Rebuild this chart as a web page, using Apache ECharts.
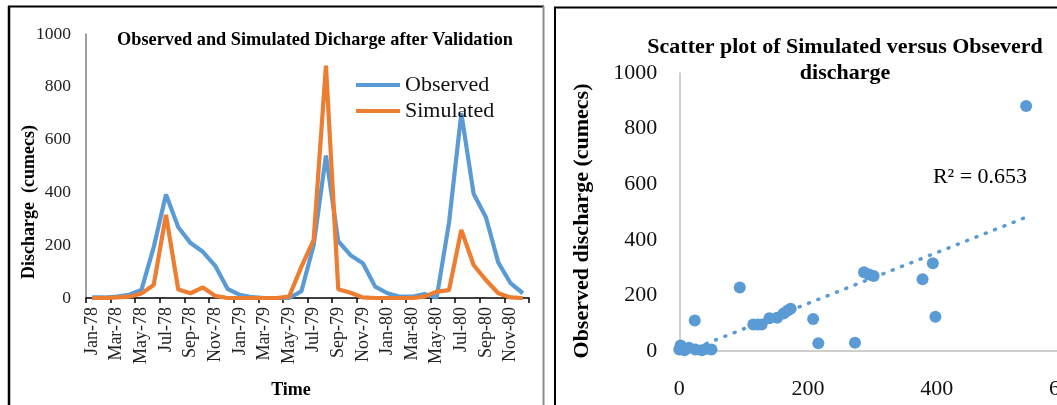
<!DOCTYPE html>
<html><head><meta charset="utf-8">
<script src="https://cdn.jsdelivr.net/npm/echarts@6/dist/echarts.min.js"></script>
<style>html,body{margin:0;padding:0;background:#fff;overflow:hidden}#c{width:1057px;height:405px}</style>
</head><body><div id="c"></div>
<script>
const months = ['Jan-78','Feb-78','Mar-78','Apr-78','May-78','Jun-78','Jul-78','Aug-78','Sep-78','Oct-78','Nov-78','Dec-78',
  'Jan-79','Feb-79','Mar-79','Apr-79','May-79','Jun-79','Jul-79','Aug-79','Sep-79','Oct-79','Nov-79','Dec-79',
  'Jan-80','Feb-80','Mar-80','Apr-80','May-80','Jun-80','Jul-80','Aug-80','Sep-80','Oct-80','Nov-80','Dec-80'];
const observed  = [2, 2, 5, 12, 30, 192, 392, 268, 208, 175, 122, 35,
                   12, 3, 0, 0, 0, 25, 200, 540, 215, 162, 132, 43,
                   18, 5, 5, 15, 2, 285, 700, 395, 306, 135, 56, 18];
const simulated = [0, 0, 2, 5, 17, 49, 315, 32, 18, 40, 8, 0,
                   0, 0, 0, 0, 5, 118, 220, 880, 33, 20, 2, 0,
                   0, 0, 0, 5, 24, 30, 258, 125, 68, 18, 2, 0];
const scatterPoints = [[0, 5], [2, 20], [5, 10], [8, 3], [15, 12], [25, 5], [35, 3], [42, 8], [50, 5],
  [24, 110], [94, 228], [115, 95], [122, 95], [128, 95], [140, 118], [152, 120], [162, 135], [168, 145], [173, 152],
  [208, 115], [216, 28], [273, 30], [287, 283], [295, 275], [302, 270], [378, 258], [394, 316], [398, 123], [539, 881]];
const trendline = [[13, 0], [539, 481]];
const r2Text = 'R² = 0.653';
const leftTitle = 'Observed and Simulated Dicharge after Validation';
const rightTitle = 'Scatter plot of Simulated versus Obseverd\ndischarge';

const FONT = '"Liberation Serif","Times New Roman",serif';
const LF = 'Liberation Serif';
const BLUE = '#5B9BD5', ORANGE = '#ED7D31';
const plain = v => String(v);
const chart = echarts.init(document.getElementById('c'));
chart.setOption({
  animation: false,
  backgroundColor: '#fff',
  textStyle: {fontFamily: LF},
  graphic: [
    {type:'line', shape:{x1:8, y1:6.5, x2:544, y2:6.5}, style:{stroke:'#000', lineWidth:2}},
    {type:'line', shape:{x1:9, y1:6, x2:9, y2:405}, style:{stroke:'#000', lineWidth:2.5}},
    {type:'line', shape:{x1:543.5, y1:6, x2:543.5, y2:405}, style:{stroke:'#8c8c8c', lineWidth:2}},
    {type:'line', shape:{x1:554, y1:7.5, x2:1057, y2:7.5}, style:{stroke:'#000', lineWidth:2}},
    {type:'line', shape:{x1:555, y1:7, x2:555, y2:405}, style:{stroke:'#000', lineWidth:2}},
    {type:'text', x:315, y:40, style:{text:leftTitle, font:'bold 18.3px '+FONT, fill:'#000', align:'center', verticalAlign:'middle'}},
    {type:'text', x:29, y:202, rotation:Math.PI/2, style:{text:'Discharge  (cumecs)', font:'bold 18px '+FONT, fill:'#000', align:'center', verticalAlign:'middle'}},
    {type:'text', x:291, y:390, style:{text:'Time', font:'bold 18px '+FONT, fill:'#000', align:'center', verticalAlign:'middle'}},
    {type:'text', x:845, y:60, style:{text:rightTitle, font:'bold 22px '+FONT, lineHeight:26, fill:'#000', align:'center', verticalAlign:'middle'}},
    {type:'text', x:582, y:221, rotation:Math.PI/2, style:{text:'Observed discharge (cumecs)', font:'bold 22px '+FONT, fill:'#000', align:'center', verticalAlign:'middle'}},
    {type:'text', x:980, y:177, style:{text:r2Text, font:'22px '+FONT, fill:'#000', align:'center', verticalAlign:'middle'}}
  ],
  legend: {
    data: ['Observed', 'Simulated'],
    orient: 'vertical', left: 351, top: 69,
    icon: 'rect', itemWidth: 44, itemHeight: 4, itemGap: 4,
    textStyle: {fontFamily: LF, fontSize: 22, color: '#111'}
  },
  grid: [
    {left: 86, top: 34, width: 443, height: 264, outerBoundsMode: 'none', containLabel: false},
    {left: 679.3, top: 73, width: 514.8, height: 278, outerBoundsMode: 'none', containLabel: false}
  ],
  xAxis: [
    {type:'category', gridIndex:0, data:months, boundaryGap:true,
     axisLine:{lineStyle:{color:'#000', width:1.5}},
     axisTick:{show:true, interval:1, length:5, lineStyle:{color:'#000', width:1.5}},
     axisLabel:{interval:1, rotate:90, fontFamily:LF, fontSize:18, color:'#222', margin:9},
     splitLine:{show:false}},
    {type:'value', gridIndex:1, min:0, max:800, interval:200,
     axisLine:{show:true, lineStyle:{color:'#bfbfbf', width:1.5}},
     axisTick:{show:false}, splitLine:{show:false},
     axisLabel:{fontFamily:LF, fontSize:22, color:'#111', margin:27, formatter:plain}}
  ],
  yAxis: [
    {type:'value', gridIndex:0, min:0, max:1000, interval:200,
     axisLine:{show:true, lineStyle:{color:'#7f7f7f', width:1.5}},
     axisTick:{show:false}, splitLine:{show:false},
     axisLabel:{fontFamily:LF, fontSize:17.5, color:'#222', margin:15, formatter:plain}},
    {type:'value', gridIndex:1, min:0, max:1000, interval:200,
     axisLine:{show:true, lineStyle:{color:'#bfbfbf', width:1.5}},
     axisTick:{show:false}, splitLine:{show:false},
     axisLabel:{fontFamily:LF, fontSize:22, color:'#111', margin:22, formatter:plain}}
  ],
  series: [
    {name:'Observed', type:'line', xAxisIndex:0, yAxisIndex:0, data:observed, symbol:'none',
     color:BLUE, lineStyle:{color:BLUE, width:4.2}},
    {name:'Simulated', type:'line', xAxisIndex:0, yAxisIndex:0, data:simulated, symbol:'none',
     color:ORANGE, lineStyle:{color:ORANGE, width:4.2}},
    {name:'Trend', type:'line', xAxisIndex:1, yAxisIndex:1, data:trendline, symbol:'none', clip:true,
     lineStyle:{color:BLUE, width:3.5, type:[1, 9], cap:'round'}},
    {name:'Points', type:'scatter', xAxisIndex:1, yAxisIndex:1, data:scatterPoints, symbolSize:12,
     itemStyle:{color:BLUE, opacity:1}}
  ]
});
</script></body></html>
